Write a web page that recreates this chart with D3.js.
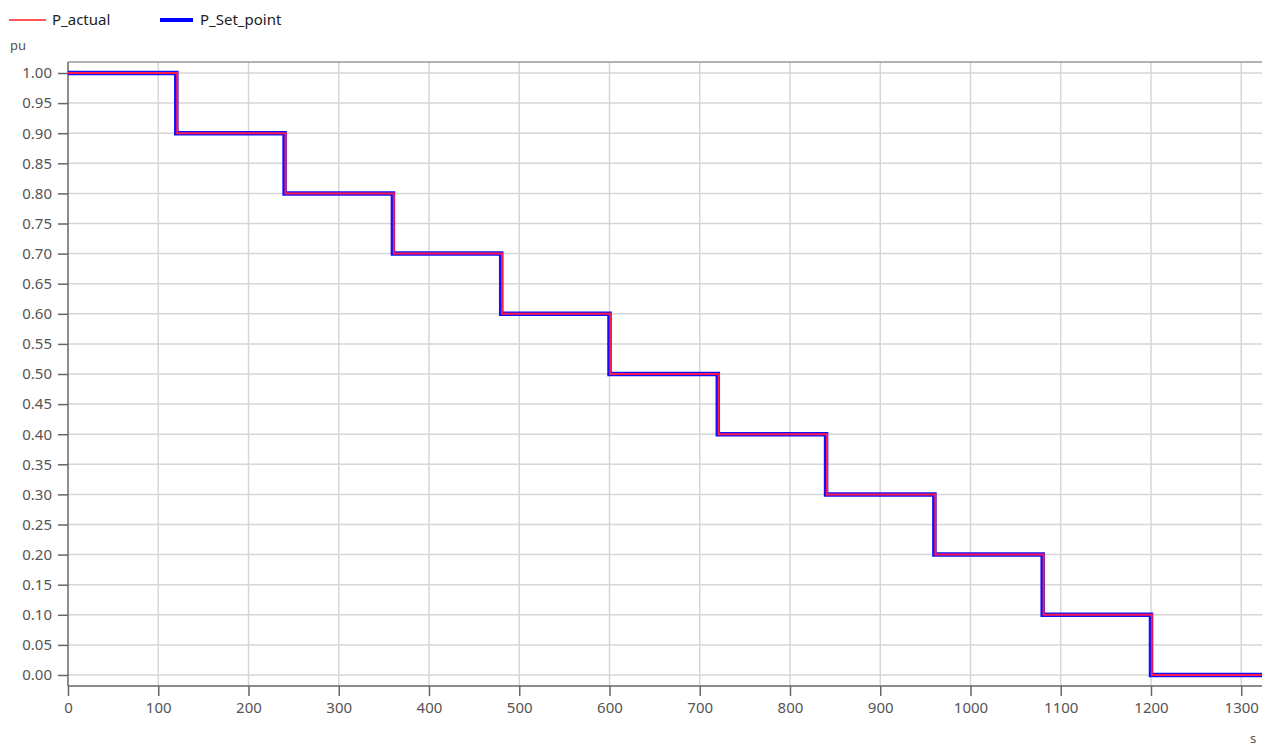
<!DOCTYPE html>
<html><head><meta charset="utf-8">
<script src="https://cdn.jsdelivr.net/npm/d3@7"></script>
<style>
body{margin:0;background:#fff;}
text{font-family:"Segoe UI","Noto Sans","Open Sans",sans-serif;}
</style></head>
<body><svg id="c" width="1263" height="747"></svg>
<script>
const stepTimes = [0,120,240,360,480,600,720,840,960,1080,1200,1323];
const setPoint = [1.0,0.9,0.8,0.7,0.6,0.5,0.4,0.3,0.2,0.1,0.0,0.0];
const actualTimes = [0,121,241,361,481,601,721,841,961,1081,1201,1323];
const actual = [1.0,0.9,0.8,0.7,0.6,0.5,0.4,0.3,0.2,0.1,0.0,0.0];
const xTicks = [0,100,200,300,400,500,600,700,800,900,1000,1100,1200,1300];
const yTicks = d3.range(0,21).map(i=>i*0.05);

const svg = d3.select("#c");
const L=68, R=1262, T=62, B=686;
const x = d3.scaleLinear().domain([0,1323]).range([L,R]);
const y = d3.scaleLinear().domain([-0.0183,1.0183]).range([B,T]);

// grid
svg.append("g").selectAll("line").data(yTicks).join("line")
  .attr("x1",L).attr("x2",R).attr("y1",d=>y(d)).attr("y2",d=>y(d))
  .attr("stroke","#d6d6d6").attr("stroke-width",1.5);
svg.append("g").selectAll("line").data(xTicks.filter(d=>d>0)).join("line")
  .attr("y1",T).attr("y2",B).attr("x1",d=>x(d)).attr("x2",d=>x(d))
  .attr("stroke","#d6d6d6").attr("stroke-width",1.5);
// top border
svg.append("line").attr("x1",L).attr("x2",R).attr("y1",T).attr("y2",T).attr("stroke","#999").attr("stroke-width",1.5);

// axes
const xa = svg.append("g").attr("transform",`translate(0,${B})`)
  .call(d3.axisBottom(x).tickValues(xTicks).tickFormat(d3.format("d")).tickSize(10).tickPadding(6));
const ya = svg.append("g").attr("transform",`translate(${L},0)`)
  .call(d3.axisLeft(y).tickValues(yTicks).tickFormat(d3.format(".2f")).tickSize(10).tickPadding(6));
[xa,ya].forEach(a=>{
  a.select(".domain").attr("stroke","#666").attr("stroke-width",1.5);
  a.selectAll(".tick line").attr("stroke","#666").attr("stroke-width",1.5);
  a.selectAll(".tick text").attr("fill","#555").style("font-size","15px")
   .style("font-family",'"Segoe UI","Noto Sans","Open Sans",sans-serif');
});
ya.select(".domain").attr("d",`M0,${T}V${B}`);
xa.select(".domain").attr("d",`M${L},0H${R}`);

// lines
const line = d3.line().curve(d3.curveStepAfter);
const spPts = stepTimes.map((t,i)=>[x(t),y(setPoint[i])]);
const acPts = actualTimes.map((t,i)=>[x(t),y(actual[i])]);
svg.append("path").attr("d",line(spPts)).attr("fill","none").attr("stroke","#1010ff").attr("stroke-width",4.5);
svg.append("path").attr("d",line(acPts)).attr("fill","none").attr("stroke","#ff1a4a").attr("stroke-width",2);

// legend
svg.append("line").attr("x1",9).attr("x2",46).attr("y1",20).attr("y2",20).attr("stroke","#ff2020").attr("stroke-width",1.5);
svg.append("text").attr("x",52).attr("y",25).text("P_actual").attr("fill","#222").style("font-size","15px");
svg.append("line").attr("x1",160).attr("x2",193).attr("y1",20).attr("y2",20).attr("stroke","#0000ff").attr("stroke-width",4);
svg.append("text").attr("x",200).attr("y",25).text("P_Set_point").attr("fill","#222").style("font-size","15px");
// units
svg.append("text").attr("x",10).attr("y",50).text("pu").attr("fill","#555").style("font-size","13px");
svg.append("text").attr("x",1250).attr("y",743).text("s").attr("fill","#555").style("font-size","13px");
</script></body></html>
